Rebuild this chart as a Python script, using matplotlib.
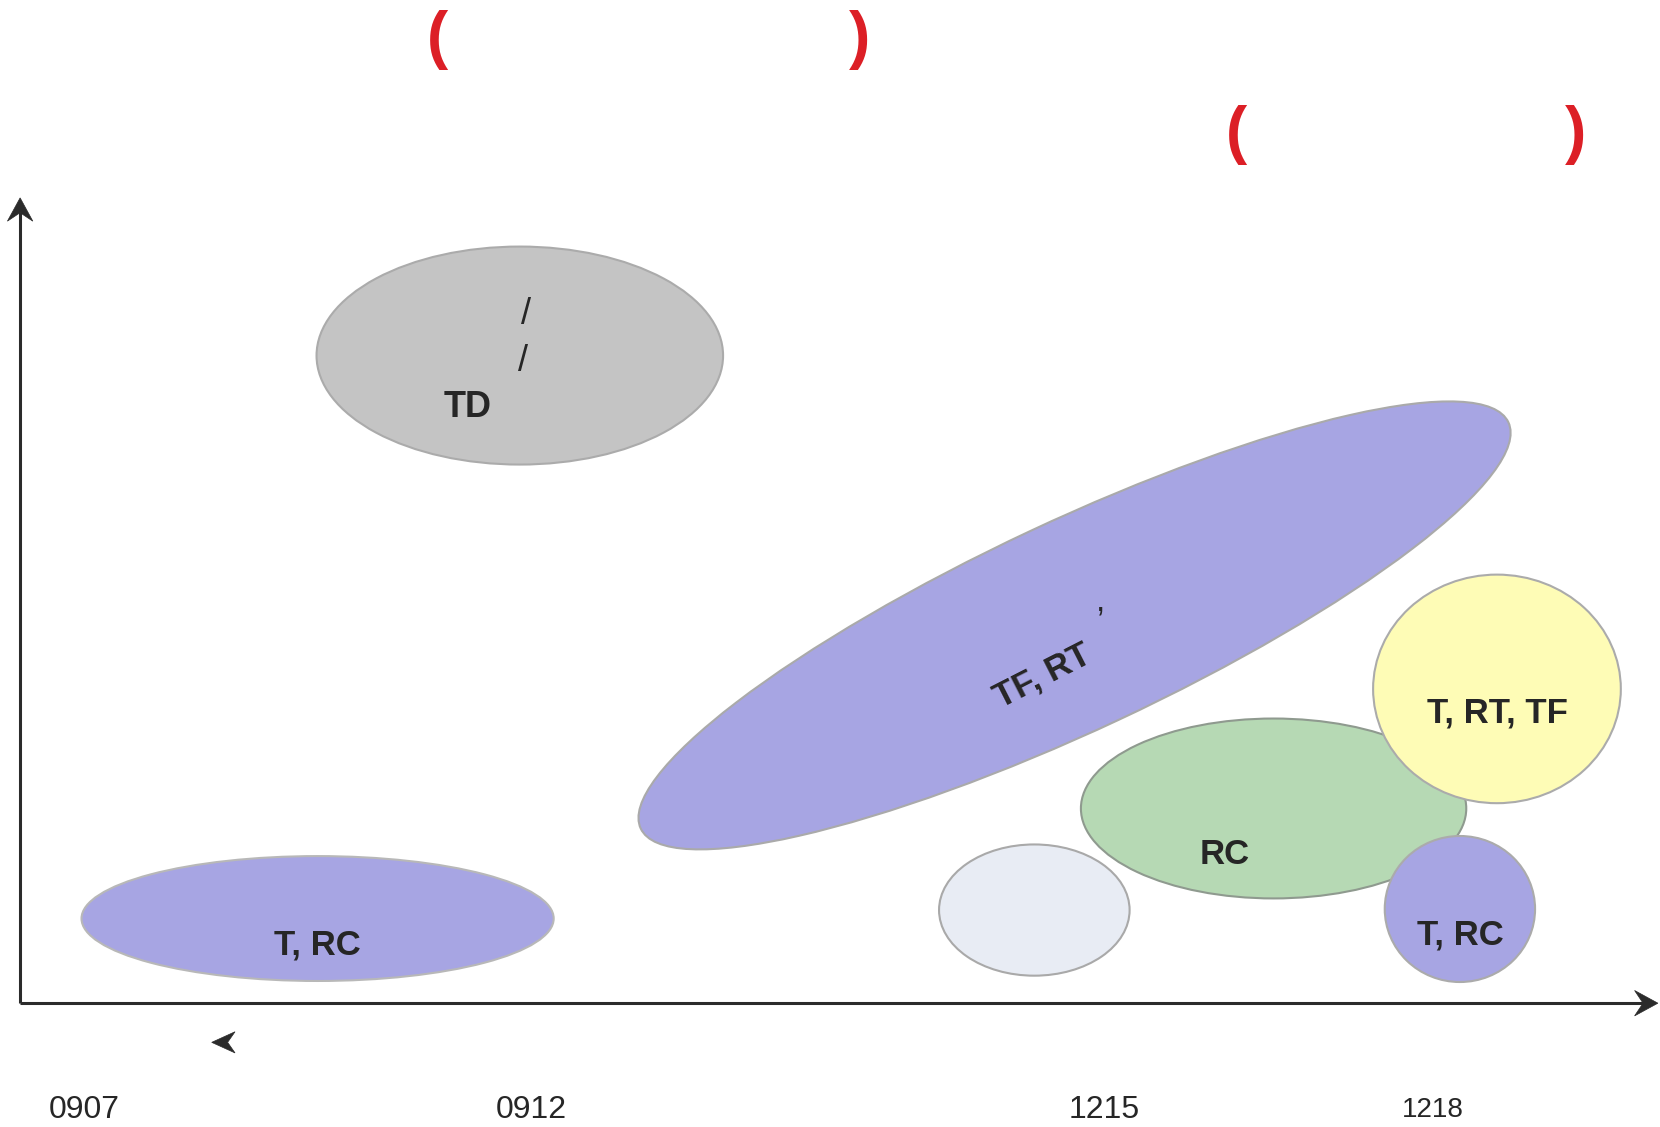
import matplotlib
matplotlib.use("Agg")
import matplotlib.pyplot as plt
from matplotlib.patches import Ellipse, Polygon

# --- Data (canvas units, y grows downward) ---
blob_x      = [491, 300, 1015, 977, 1203, 1414, 1379]
blob_y      = [336, 868, 591, 860, 764, 651, 859]
blob_w      = [384, 446, 905, 180, 364, 234, 142]
blob_h      = [206, 118, 197, 124, 170, 216, 138]
blob_angle  = [0, 0, -25.1, 0, 0, 0, 0]
blob_colors = ["#c4c4c4", "#a7a5e3", "#a7a5e3", "#e8ecf4", "#b6d9b4", "#fefcb6", "#a7a5e3"]
blob_edges  = ["#ababab", "#b8b8b8", "#aaaaaa", "#a9a9a9", "#8f9a8f", "#ababab", "#ababab"]

labels      = ["TD", "T, RC", "TF, RT", "RC", "T, RT, TF", "T, RC"]
label_x     = [442, 300, 983, 1157, 1414, 1379]
label_y     = [381, 890, 636, 804, 670, 880]
label_rot   = [0, 0, 27, 0, 0, 0]
label_size  = [26, 25, 25, 25, 25, 25]

tick_labels = ["0907", "0912", "1215", "1218"]
tick_x      = [80, 502, 1043, 1353]
tick_size   = [23, 23, 23, 20]

paren_text  = ["(", ")", "(", ")"]
paren_x     = [413, 812, 1168, 1488]
paren_y     = [38, 38, 128, 128]

INK = "#262626"
RED = "#dc1f26"
AXIS = "#2b2b2b"

plt.rcParams["font.family"] = ["Liberation Sans", "DejaVu Sans"]

fig = plt.figure(figsize=(16.6, 11.27), dpi=100)
ax = fig.add_axes([0, 0, 1, 1])
ax.set_xlim(0, 1568)
ax.set_ylim(1065, 0)
ax.axis("off")

for x, y, w, h, a, fc, ec in zip(blob_x, blob_y, blob_w, blob_h, blob_angle, blob_colors, blob_edges):
    ax.add_patch(Ellipse((x, y), w, h, angle=a, facecolor=fc, edgecolor=ec, lw=1.5))

for t, x, y, r, s in zip(labels, label_x, label_y, label_rot, label_size):
    ax.text(x, y, t, ha="center", va="center_baseline", rotation=r, fontsize=s,
            fontweight="bold", color=INK, rotation_mode="anchor")

# stray glyphs left from the original text
ax.text(497, 293, "/", ha="center", va="center_baseline", fontsize=26, color=INK)
ax.text(494, 338, "/", ha="center", va="center_baseline", fontsize=26, color=INK)
ax.text(1040, 566, ",", ha="center", va="center_baseline", fontsize=24, color=INK)

for t, x, s in zip(tick_labels, tick_x, tick_size):
    ax.text(x, 1046, t, ha="center", va="center_baseline", fontsize=s, color=INK)

for t, x, y in zip(paren_text, paren_x, paren_y):
    ax.text(x, y, t, ha="center", va="center", fontsize=46, fontweight="bold", color=RED)


def arrow_head(tip, direction, length=22, half=12, notch=8):
    tx, ty = tip
    dx, dy = direction
    px, py = -dy, dx
    back = (tx - dx * length, ty - dy * length)
    pts = [
        (tx, ty),
        (back[0] + px * half, back[1] + py * half),
        (tx - dx * (length - notch), ty - dy * (length - notch)),
        (back[0] - px * half, back[1] - py * half),
    ]
    ax.add_patch(Polygon(pts, closed=True, facecolor=AXIS, edgecolor=AXIS, lw=0.5))


# axes
ax.plot([19, 19], [948, 200], color=AXIS, lw=2.2, solid_capstyle="butt")
ax.plot([19, 1555], [948, 948], color=AXIS, lw=2.2, solid_capstyle="butt")
arrow_head((19, 187), (0, -1))
arrow_head((1566, 948), (1, 0))
arrow_head((200, 985), (-1, 0), length=22, half=10, notch=7)

fig.savefig("out.png", dpi=100, facecolor="white")
